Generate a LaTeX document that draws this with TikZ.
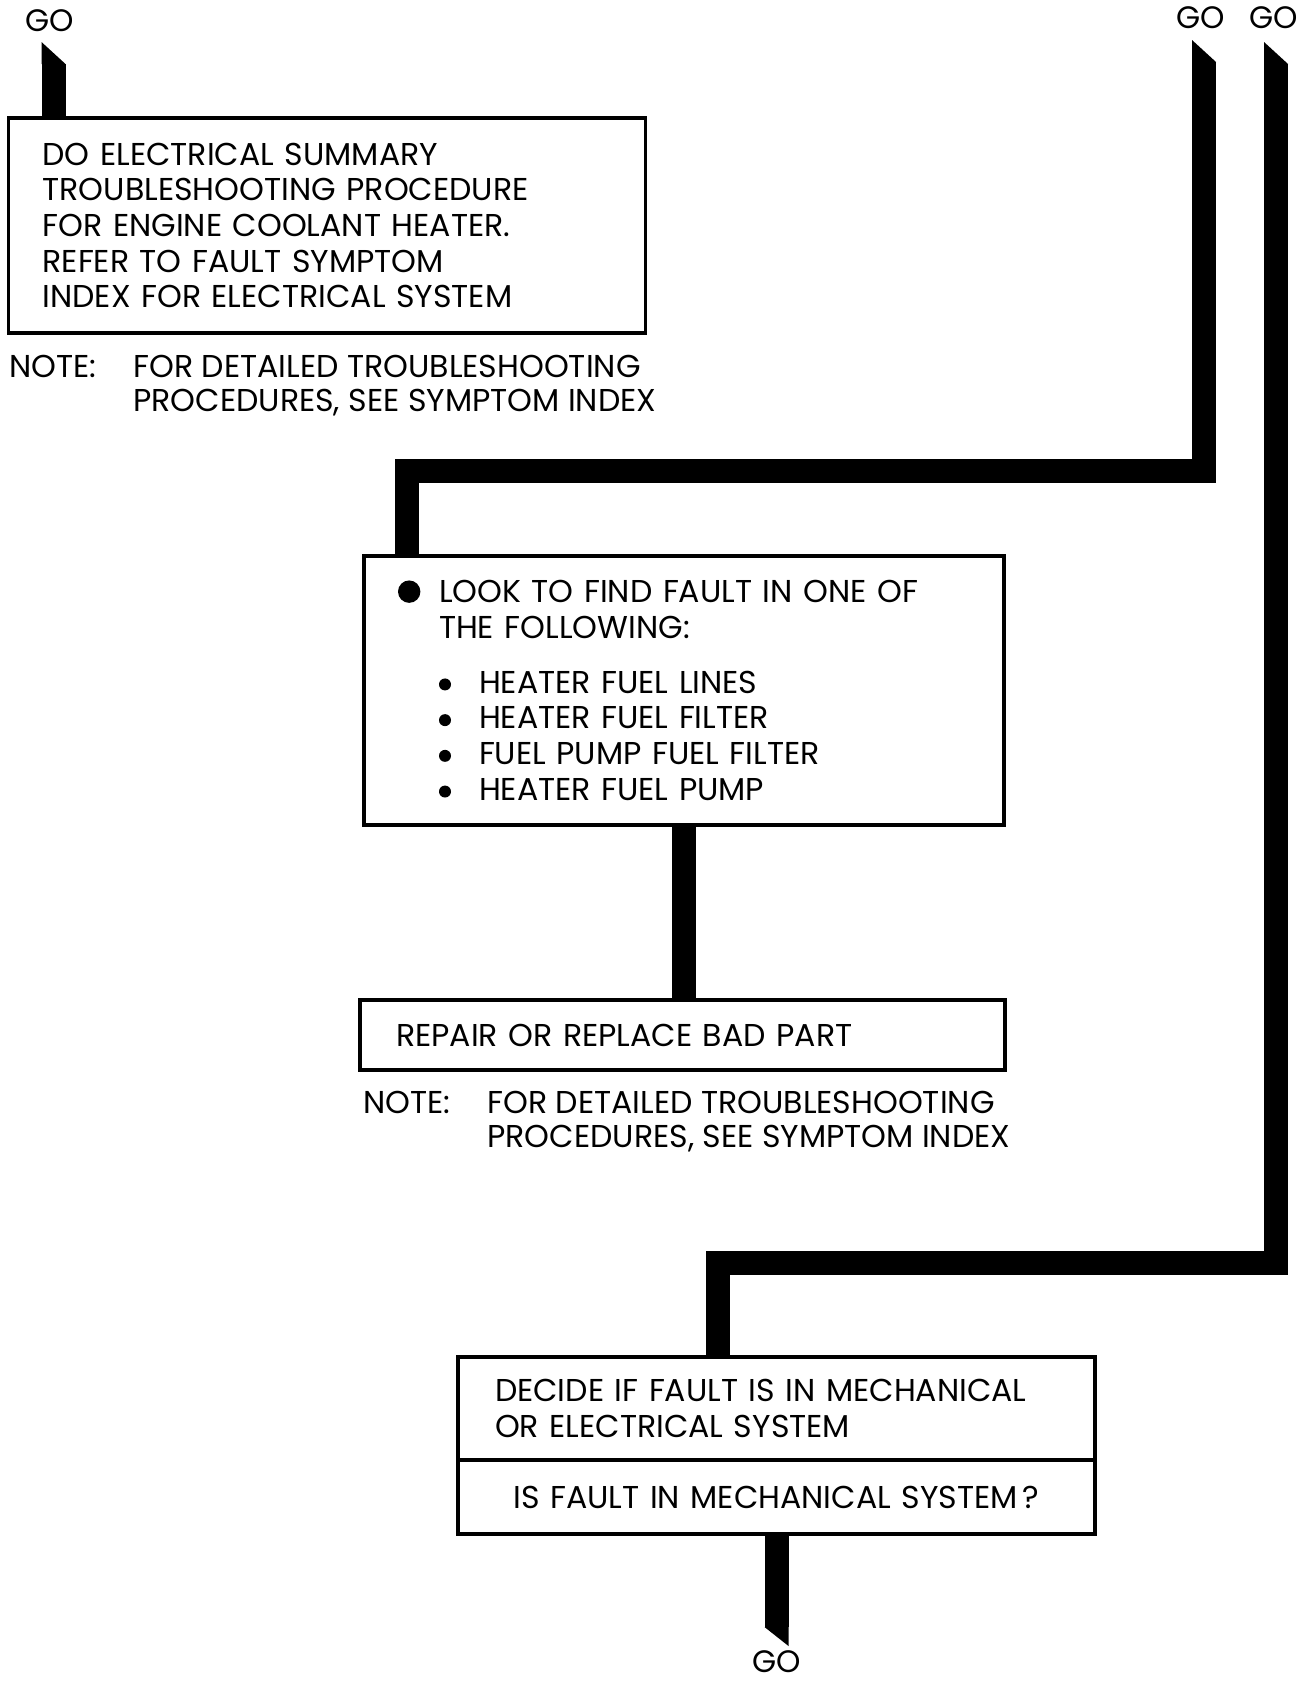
\documentclass[tikz,border=0pt]{standalone}
\usepackage{fontspec}
\setmainfont{Poppins}
\usepackage{tikz}
\usetikzlibrary{positioning}

\newcommand{\boxfont}{\fontsize{15.8}{17.85}\selectfont}
\newcommand{\notefont}{\fontsize{15.8}{17.4}\selectfont}
\newcommand{\gofont}{\fontsize{15.5}{16}\selectfont}
\newcommand{\flowdot}{\tikz[baseline=-5.6pt]\fill (0,0) circle (5.6pt);}
\newcommand{\itemdot}{\tikz[baseline=-4.4pt]\fill (0,0) circle (3pt);}

\begin{document}
\begin{tikzpicture}[x=0.5pt, y=-0.5pt,
    flow/.style={line width=12pt, line join=miter},
    box/.style={draw, line width=1.6pt, outer sep=0pt, inner ysep=3pt, align=left, font=\boxfont},
    note/.style={inner sep=0pt, font=\notefont},
    golabel/.style={inner sep=0pt, font=\gofont}]
    \useasboundingbox (0,0) rectangle (1297,1682);

    % GO labels at the top
    \node[golabel] (goa) at (50,21) {GO};
    \node[golabel] (gob) at (1201,18) {GO};
    \node[golabel] (goc) at (1274,18) {GO};
    \coordinate (tipa) at (53.5,64);
    \coordinate (tipb) at (1204,62);
    \coordinate (tipc) at (1276,64);
    \coordinate (bendb) at (406.5,471);
    \coordinate (bendc) at (717.5,1263);

    % Electrical summary box and its note
    \node[box, anchor=north west, minimum width=318.5pt, minimum height=107.5pt,
        inner xsep=17pt, text width=284.5pt] (elec) at (8.6,118)
        {DO ELECTRICAL SUMMARY\\ TROUBLESHOOTING PROCEDURE\\ FOR ENGINE COOLANT HEATER.\\
         REFER TO FAULT SYMPTOM\\ INDEX FOR ELECTRICAL SYSTEM};
    \node[note, anchor=base west] (notea) at (9,377)
        {\begin{tabular}[t]{@{}p{62pt}@{}l@{}}NOTE: & FOR DETAILED TROUBLESHOOTING\\
         & PROCEDURES, SEE SYMPTOM INDEX\end{tabular}};

    % Fault list box
    \node[box, anchor=north west, minimum width=320pt, minimum height=134.5pt,
        inner xsep=17pt, text width=286pt] (look) at (364,556)
        {\makebox[20.5pt][l]{\flowdot}LOOK TO FIND FAULT IN ONE OF\\
         \hspace*{20.5pt}THE FOLLOWING:\\[9.5pt]
         \hspace*{20.5pt}\makebox[20pt][l]{\itemdot}HEATER FUEL LINES\\
         \hspace*{20.5pt}\makebox[20pt][l]{\itemdot}HEATER FUEL FILTER\\
         \hspace*{20.5pt}\makebox[20pt][l]{\itemdot}FUEL PUMP FUEL FILTER\\
         \hspace*{20.5pt}\makebox[20pt][l]{\itemdot}HEATER FUEL PUMP};

    % Repair box and its note
    \node[box, anchor=north west, minimum width=322.5pt, minimum height=35pt,
        inner xsep=18pt, text width=286.5pt] (repair) at (360,1000)
        {REPAIR OR REPLACE BAD PART};
    \node[note, anchor=base west] (noteb) at (363,1113)
        {\begin{tabular}[t]{@{}p{62pt}@{}l@{}}NOTE: & FOR DETAILED TROUBLESHOOTING\\
         & PROCEDURES, SEE SYMPTOM INDEX\end{tabular}};

    % Decision box, split in two
    \node[box, anchor=north west, minimum width=318.5pt, minimum height=51.5pt,
        inner xsep=18.5pt, text width=281.5pt] (decide) at (458,1357)
        {DECIDE IF FAULT IS IN MECHANICAL\\ OR ELECTRICAL SYSTEM};
    \node[box, below=0pt of decide, minimum width=318.5pt, minimum height=37pt,
        inner xsep=18.5pt, text width=281.5pt, align=center] (ask)
        {IS FAULT IN MECHANICAL SYSTEM\,?};

    % Flow lines
    \draw[flow] (tipa) -- (tipa |- elec.north);
    \fill (tipa) ++(-12,0) -- ++(0,-22) -- ++(24,22) -- cycle;
    \draw[flow] (tipb) |- (bendb) -- (bendb |- look.north);
    \fill (tipb) ++(-12,0) -- ++(0,-22) -- ++(24,22) -- cycle;
    \draw[flow] (tipc) |- (bendc) -- (bendc |- decide.north);
    \fill (tipc) ++(-12,0) -- ++(0,-22) -- ++(24,22) -- cycle;
    \draw[flow] (look.south) -- (look.south |- repair.north);
    \draw[flow] (ask.south) -- ++(0,93) coordinate (tipd);
    \fill (tipd) ++(-12,0) -- ++(24,0) -- ++(0,19) -- cycle;

    % GO label at the bottom
    \node[golabel] (god) at (777,1662) {GO};
\end{tikzpicture}
\end{document}
